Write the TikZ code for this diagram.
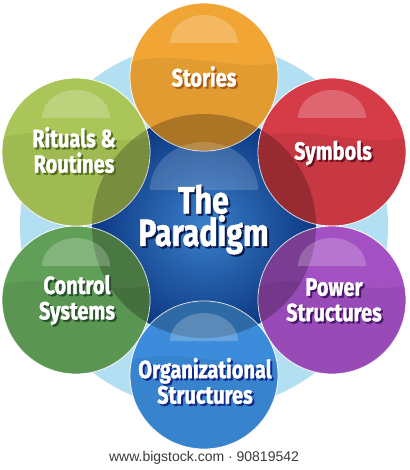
\documentclass[tikz,border=0pt]{standalone}
\usepackage{fontspec}
\newfontfamily\lblfont[FakeStretch=0.8, BoldFeatures={FakeBold=1.2}]{Fira Sans}
\newfontfamily\footfont{Liberation Sans}
\definecolor{bgblue}{HTML}{B3DFF3}
\definecolor{cin}{HTML}{3A80CA}
\definecolor{cout}{HTML}{0C3782}
\definecolor{cstories}{HTML}{F0A535}
\definecolor{csymbols}{HTML}{D53C48}
\definecolor{cpower}{HTML}{A250C2}
\definecolor{corg}{HTML}{3C8CDB}
\definecolor{ccontrol}{HTML}{609F57}
\definecolor{crituals}{HTML}{AAC658}
\definecolor{sstories}{HTML}{A85C18}
\definecolor{ssymbols}{HTML}{6E0E1E}
\definecolor{spower}{HTML}{461668}
\definecolor{sorg}{HTML}{12288A}
\definecolor{scontrol}{HTML}{26502A}
\definecolor{srituals}{HTML}{566C1E}
\definecolor{sparadigm}{HTML}{0A1A4E}
\definecolor{foot}{HTML}{3A3A3A}
\newcommand\satdraw[4]{%
  \node[sat, fill=#4] (#1) at (#2,#3) {};
  \begin{scope}
    \clip (#2,#3) circle (74pt);
    \fill[black, opacity=0.24] (204,226) circle (112pt);
    \fill[black, opacity=0.06] ({#2-80},{#3-12}) .. controls ({#2-30},{#3-32}) and ({#2+30},{#3-2}) .. ({#2+80},{#3-16}) -- ({#2+80},{#3+80}) -- ({#2-80},{#3+80}) -- cycle;
  \end{scope}
}
\newcommand\satdome[2]{%
  \fill[white, opacity=0.22] ({#1-34},{#2-34}) arc[start angle=180, end angle=0, x radius=34pt, y radius=28pt] -- cycle;
}
\begin{document}
\begin{tikzpicture}[x=1pt,y=-1pt,
  sat/.style={circle, minimum size=148pt, inner sep=0pt, draw=white, line width=0.8pt},
  lbl/.style={text=white, align=center, inner sep=0pt,
    font=\lblfont\bfseries\fontsize{25}{25.5}\selectfont},
  biglbl/.style={lbl, font=\lblfont\bfseries\fontsize{38}{30}\selectfont}]
\useasboundingbox (0,0) rectangle (409,470);
\fill[white] (0,0) rectangle (409,470);
\fill[bgblue] (204,226) circle (184pt);
\shade[inner color=cin, outer color=cout] (204,226) circle (112pt);
\node[circle, minimum size=224pt, inner sep=0pt] (paradigm) at (204,226) {};
\satdraw{stories}{204}{77}{cstories}
\satdraw{symbols}{332}{152}{csymbols}
\satdraw{power}{332}{300}{cpower}
\satdraw{org}{204}{375}{corg}
\satdraw{control}{76}{300}{ccontrol}
\satdraw{rituals}{76}{152}{crituals}
% highlight of the centre
\fill[white, opacity=0.16] (150,190) arc[start angle=180, end angle=0, x radius=54pt, y radius=48pt] -- cycle;
\satdome{204}{77}
\satdome{332}{152}
\satdome{332}{300}
\satdome{204}{375}
\satdome{76}{300}
\satdome{76}{152}
% labels with shadows
\node[biglbl, text=sparadigm] (paradigm-sh) at (205.5,221.5) {The\\Paradigm};
\node[biglbl] (paradigm-t) at (203.5,219.5) {The\\Paradigm};
\node[lbl, text=sstories] (stories-sh) at (206,78.5) {Stories};
\node[lbl] (stories-t) at (204,76.5) {Stories};
\node[lbl, text=ssymbols] (symbols-sh) at (335,155) {Symbols};
\node[lbl] (symbols-t) at (333,153) {Symbols};
\node[lbl, text=srituals] (rituals-sh) at (76,152) {Rituals \&\\Routines};
\node[lbl] (rituals-t) at (74,150) {Rituals \&\\Routines};
\node[lbl, text=scontrol] (control-sh) at (79,302) {Control\\Systems};
\node[lbl] (control-t) at (77,300) {Control\\Systems};
\node[lbl, text=spower] (power-sh) at (336,302) {Power\\Structures};
\node[lbl] (power-t) at (334,300) {Power\\Structures};
\node[lbl, text=sorg] (org-sh) at (207,383) {Organizational\\Structures};
\node[lbl] (org-t) at (205,381) {Organizational\\Structures};
\node[text=foot, inner sep=0pt, font=\footfont\fontsize{14}{16}\selectfont] (footer) at (204,458) {www.bigstock.com \textperiodcentered\ 90819542};
\end{tikzpicture}
\end{document}
